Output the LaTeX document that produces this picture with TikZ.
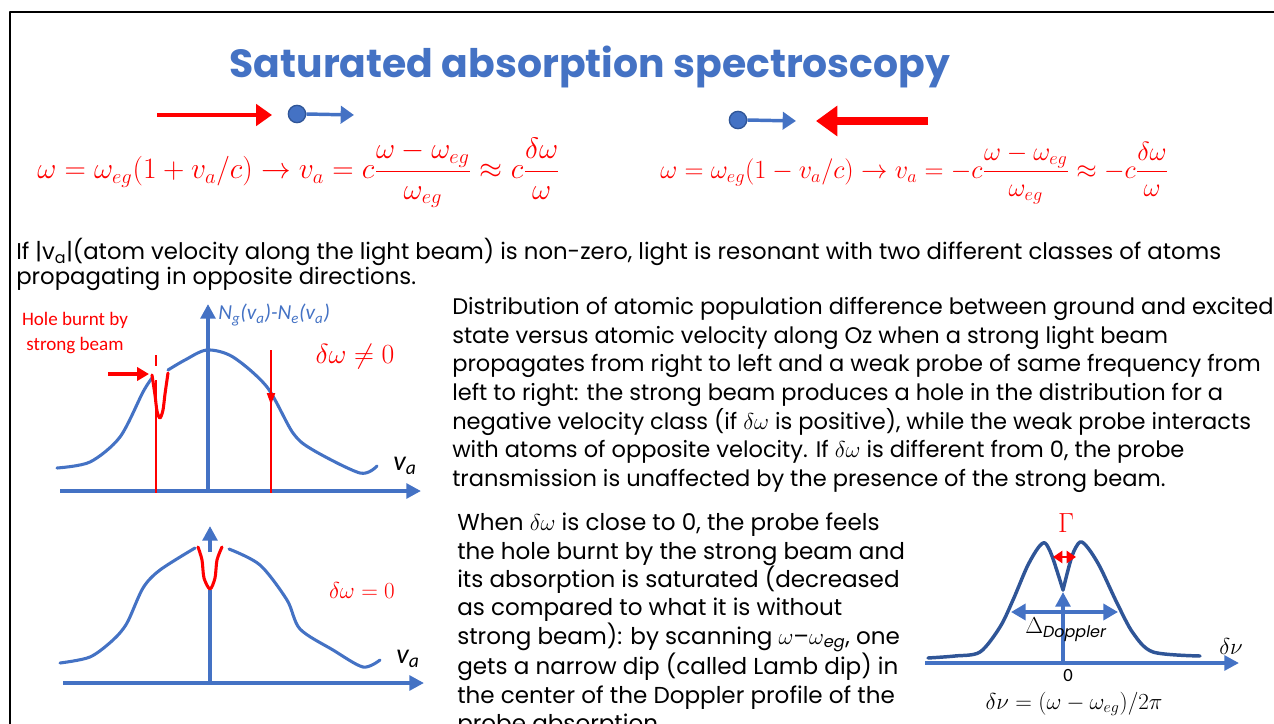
\documentclass[tikz,border=0pt]{standalone}
\usepackage{amsmath}
\usepackage{graphicx}
\usepackage{fontspec}
\setmainfont{Poppins}
\newfontfamily\calfont{Carlito}
\usetikzlibrary{arrows.meta,positioning,calc}
\definecolor{sablue}{RGB}{68,114,196}
\definecolor{sadark}{RGB}{47,85,151}
\definecolor{sared}{RGB}{255,0,0}
\tikzset{
  axis/.style={draw=sablue, line width=3pt, -{Triangle[length=11pt,width=11pt]}},
  profile/.style={draw=sablue, line width=2.3pt, line cap=round},
  dprofile/.style={draw=sadark, line width=2.6pt, line cap=round, line join=round},
  hole/.style={draw=sared, line width=2.3pt, line cap=round},
  redln/.style={draw=sared, line width=1.6pt},
  beam/.style={draw=sared, line width=3.6pt, -{Triangle[length=12pt,width=16pt]}},
  sbeam/.style={draw=sared, line width=6.5pt, -{Triangle[length=16pt,width=22pt]}},
  atom/.style={circle, fill=sablue, draw=sadark, line width=1pt, minimum size=13pt, inner sep=0pt},
  vel/.style={draw=sablue, line width=2.6pt, -{Triangle[length=10pt,width=13pt]}},
  eqn/.style={text=sared, inner sep=0pt, font=\fontsize{20.74}{25}\selectfont},
  body/.style={align=left, anchor=north west, inner sep=0pt},
  lbl/.style={inner sep=0pt, font=\calfont\fontsize{14.3}{18.75}\selectfont},
  every picture/.append style={line join=round}
}
\begin{document}
\begin{tikzpicture}[x=0.75pt,y=-0.75pt]
  \useasboundingbox (0,0) rectangle (1274,724);
  \clip (0,0) rectangle (1274,724);
  \draw[line width=1.5pt] (10,724) -- (10,12) -- (1274,12);

  \node[text=sablue, font=\bfseries\fontsize{29.5}{34}\selectfont] (title) at (590,67) {Saturated absorption spectroscopy};

  % beams and atoms
  \coordinate (wk0) at (157,115);
  \coordinate (wk1) at (272,115);
  \draw[beam] (wk0) -- (wk1);
  \node[atom] (atl) at (297,114) {};
  \coordinate (vl) at (354,115);
  \draw[vel] (atl.east) -- (vl);
  \node[atom] (atr) at (738,120) {};
  \coordinate (vr) at (796,121);
  \draw[vel] (atr.east) -- (vr);
  \coordinate (st0) at (928,121);
  \coordinate (st1) at (816,121);
  \draw[sbeam] (st0) -- (st1);

  \node[eqn, anchor=west] (eql) at (37,173)
    {\scalebox{1.07}{$\displaystyle \omega=\omega_{eg}(1+v_a/c)\rightarrow v_a=c\frac{\omega-\omega_{eg}}{\omega_{eg}}\approx c\frac{\delta\omega}{\omega}$}};
  \node[eqn, anchor=west] (eqr) at (660,173)
    {\scalebox{0.953}{$\displaystyle \omega=\omega_{eg}(1-v_a/c)\rightarrow v_a=-c\frac{\omega-\omega_{eg}}{\omega_{eg}}\approx -c\frac{\delta\omega}{\omega}$}};

  \node[body, font=\fontsize{17.1}{18.5}\selectfont] (intro) at (16,238)
    {If |v\textsubscript{a}|(atom velocity along the light beam) is non-zero, light is resonant with two different classes of atoms\\
     propagating in opposite directions.};

  \node[body, font=\fontsize{16.9}{21.5}\selectfont] (distr) at (452,297)
    {Distribution of atomic population difference between ground and excited\\
     state versus atomic velocity along Oz when a strong light beam\\
     propagates from right to left and a weak probe of same frequency from\\
     left to right: the strong beam produces a hole in the distribution for a\\
     negative velocity class (if $\delta\omega$ is positive), while the weak probe interacts\\
     with atoms of opposite velocity. If $\delta\omega$ is different from 0, the probe\\
     transmission is unaffected by the presence of the strong beam.};

  \node[body, font=\fontsize{17.3}{21.25}\selectfont] (lamb) at (457,513)
    {When $\delta\omega$ is close to 0, the probe feels\\
     the hole burnt by the strong beam and\\
     its absorption is saturated (decreased\\
     as compared to what it is without\\
     strong beam): by scanning $\omega$--$\omega$\textsubscript{\textit{eg}}, one\\
     gets a narrow dip (called Lamb dip) in\\
     the center of the Doppler profile of the\\
     probe absorption.};

  % graph 1: delta omega not zero
  \coordinate (h1a) at (60,491);
  \coordinate (h1b) at (421,491);
  \coordinate (v1a) at (208,491);
  \coordinate (v1b) at (208,304);
  \draw[axis] (h1a) -- (h1b);
  \draw[axis] (v1a) -- (v1b);
  \draw[profile] plot[smooth] coordinates {(57,468) (90,462) (120,437) (143,392) (152,378)};
  \draw[profile] plot[smooth] coordinates {(168,370) (185,360) (207,350) (233,357) (267,387) (293,433) (313,450) (360,473) (377,466)};
  \draw[hole] plot[smooth] coordinates {(152,375) (155,395) (157,411) (160,418) (163,410) (165,394) (168,373)};
  \draw[redln] (156,380) -- (156,493);
  \draw[redln, line width=2pt] (156,355) -- (156,366);
  \draw[redln] (271,350) -- (271,493);
  \draw[redln, -{Triangle[length=9pt,width=6pt]}] (271,350) -- (271,405);
  \coordinate (hp0) at (108,374);
  \coordinate (hp1) at (149,374);
  \draw[sared, line width=3pt, -{Triangle[length=9pt,width=10pt]}] (hp0) -- (hp1);
  \node[lbl, text=sared, align=center] (holelbl) at (75,333) {Hole burnt by\\strong beam};
  \node[inner sep=0pt, font=\calfont\fontsize{16}{19}\selectfont, text=sablue, anchor=west] (nlbl) at (218,315)
    {\itshape N\textsubscript{g}(v\textsubscript{a})-N\textsubscript{e}(v\textsubscript{a})};
  \node[text=sared, inner sep=0pt, font=\fontsize{20.74}{25}\selectfont] (dwne) at (355,357) {$\delta\omega\neq0$};
  \node[inner sep=0pt, font=\calfont\itshape\fontsize{21}{24}\selectfont] (va1) at (405,466) {v\textsubscript{a}};

  % graph 2: delta omega zero
  \coordinate (h2a) at (63,683);
  \coordinate (h2b) at (424,683);
  \coordinate (v2a) at (210,683);
  \coordinate (v2b) at (210,590);
  \coordinate (v2c) at (210,552);
  \coordinate (v2d) at (210,526);
  \draw[axis] (h2a) -- (h2b);
  \draw[sablue, line width=3pt] (v2a) -- (v2b);
  \draw[axis] (v2c) -- (v2d);
  \draw[profile] plot[smooth] coordinates {(60,663) (90,657) (113,640) (127,623) (143,588) (160,570) (195,548)};
  \draw[profile] plot[smooth] coordinates {(229,549) (260,565) (287,600) (300,629) (333,650) (363,667) (380,660)};
  \draw[hole] plot[smooth] coordinates {(198,547) (202,560) (204,578) (210,589) (215,578) (217,560) (222,547)};
  \node[text=sared, inner sep=0pt, font=\fontsize{17.28}{20}\selectfont] (dweq) at (362,590) {$\delta\omega=0$};
  \node[inner sep=0pt, font=\calfont\itshape\fontsize{21}{24}\selectfont] (va2) at (408,659) {v\textsubscript{a}};

  % graph 3: Lamb dip
  \coordinate (h3a) at (925,663);
  \coordinate (h3b) at (1239,663);
  \coordinate (v3a) at (1063,663);
  \coordinate (v3b) at (1063,592);
  \draw[axis] (h3a) -- (h3b);
  \draw[axis] (v3a) -- (v3b);
  \draw[dprofile] plot[smooth] coordinates {(928,658) (955,656) (980,652) (1000,627) (1013,600) (1027,567) (1038,548) (1045,543) (1052,556) (1063,590)};
  \draw[dprofile] plot[smooth] coordinates {(1063,590) (1072,556) (1080,542) (1088,548) (1100,567) (1117,603) (1133,633) (1153,652) (1200,656)};
  \coordinate (dl) at (1011,612);
  \coordinate (dr) at (1118,612);
  \draw[draw=sablue, line width=3pt, {Triangle[length=11pt,width=12pt]}-{Triangle[length=11pt,width=12pt]}] (dl) -- (dr);
  \coordinate (gl) at (1053,557);
  \coordinate (gr) at (1076,557);
  \draw[sared, line width=2pt, {Triangle[length=7pt,width=9pt]}-{Triangle[length=7pt,width=9pt]}] (gl) -- (gr);
  \node[text=sared, inner sep=0pt, font=\fontsize{20.74}{24}\selectfont] (gam) at (1066,523) {$\Gamma$};
  \node[inner sep=0pt, anchor=west, font=\fontsize{17.28}{20}\selectfont] (dop) at (1025,630) {$\Delta_{\mathit{Doppler}}$};
  \node[inner sep=0pt, font=\fontsize{17.28}{22}\selectfont] (dnu) at (1231,646) {$\delta\nu$};
  \node[inner sep=0pt, font=\calfont\fontsize{14}{17}\selectfont] (zero) at (1068,675) {0};
  \node[inner sep=0pt, font=\fontsize{17.28}{20}\selectfont] (dnudef) at (1074,704) {$\delta\nu=(\omega-\omega_{eg})/2\pi$};
\end{tikzpicture}
\end{document}
